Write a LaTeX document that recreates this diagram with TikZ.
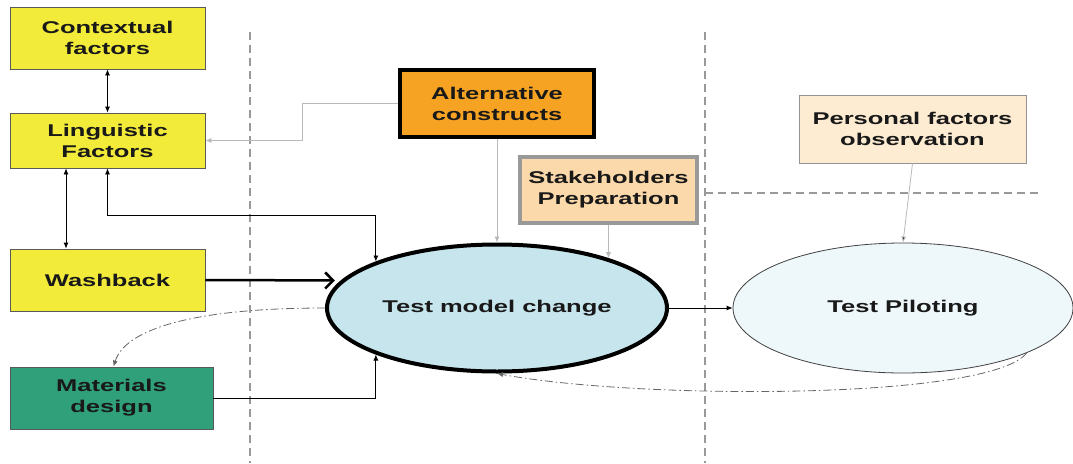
\documentclass[tikz,border=0pt]{standalone}
\usepackage{fontspec}
\setmainfont{Liberation Sans}[FakeStretch=1.5]
\usetikzlibrary{arrows.meta,shapes.geometric}
\definecolor{yellowbox}{HTML}{F2EB3A}
\definecolor{greenbox}{HTML}{2FA07A}
\definecolor{orangebox}{HTML}{F6A323}
\definecolor{peachbox}{HTML}{FCD9AA}
\definecolor{palebox}{HTML}{FDEBD2}
\definecolor{bluefill}{HTML}{C6E5EC}
\definecolor{palefill}{HTML}{EEF7FA}
\begin{document}
\begin{tikzpicture}[x=1pt,y=-1pt,
    txt/.style={align=center,font=\bfseries\fontsize{17}{21}\selectfont,text=black!90},
    box/.style={txt,draw=black!65,line width=0.8pt,inner sep=0pt},
    arr/.style={line width=0.8pt,-{Latex[length=6pt,width=5pt]}},
    lightarr/.style={arr,draw=gray!55},
    sep/.style={draw=gray!80,line width=1.2pt,dash pattern=on 8pt off 5pt},
    dashdot/.style={arr,draw=black!60,dash pattern=on 8pt off 3pt on 1.5pt off 3pt}]
        \useasboundingbox (0,0) rectangle (1073,463);
        %% Separators
        \draw[sep] (250,32) -- (250,463);
        \draw[sep] (705,32) -- (705,463);
        \draw[sep] (705,193) -- (1041,193);
        %% Left column
        \node[box,fill=yellowbox,minimum width=195,minimum height=62] (ctx) at (107.5,38) {Contextual\\factors};
        \node[box,fill=yellowbox,minimum width=195,minimum height=55] (ling) at (107.5,140.5) {Linguistic\\Factors};
        \node[box,fill=yellowbox,minimum width=195,minimum height=62] (wash) at (107.5,280) {Washback};
        \node[box,fill=greenbox,minimum width=203,minimum height=62] (mat) at (111.5,398) {Materials\\design};
        %% Top boxes
        \node[box,fill=orangebox,draw=black,line width=4pt,minimum width=194,minimum height=67] (alt) at (497,103.5) {Alternative\\constructs};
        \node[box,fill=peachbox,draw=gray!80,line width=4pt,minimum width=177,minimum height=66] (stake) at (608.5,190) {Stakeholders\\Preparation};
        \node[box,fill=palebox,draw=gray!85,minimum width=227,minimum height=68] (pers) at (912.5,129) {Personal factors\\observation};
        %% Ellipses
        \node[txt,ellipse,draw=black,line width=4pt,fill=bluefill,minimum width=340,minimum height=127] (tmc) at (497,308) {Test model change};
        \node[txt,ellipse,draw=black!75,line width=0.8pt,fill=palefill,minimum width=340,minimum height=130] (tp) at (903,308) {Test Piloting};
        %% Connectors
        \coordinate (lk) at (0,215);
        \draw[arr,{Latex[length=6pt,width=5pt]}-{Latex[length=6pt,width=5pt]}] (ctx) -- (ling);
        \draw[arr,{Latex[length=6pt,width=5pt]}-{Latex[length=6pt,width=5pt]}] ([xshift=-41.5]ling.south) -- ([xshift=-41.5]wash.north);
        \draw[arr,{Latex[length=6pt,width=5pt]}-{Latex[length=6pt,width=5pt]}] (ling.south) |- (tmc.159 |- lk) -- (tmc.159);
        \draw[lightarr] (alt.west) -- (302,103.5) |- (ling.east);
        \draw[lightarr] (alt.south) -- (tmc.north);
        \draw[lightarr] (stake.south) -- (stake.south |- tmc.24);
        \draw[lightarr,-{Latex[length=6pt,width=5pt,fill=black!80]}] (pers.south) -- (tp.north);
        \draw[line width=2.5pt,shorten >=6pt,-{Straight Barb[length=8pt,width=16pt]}] (wash.east) -- (tmc.170);
        \draw[arr] (mat.east) -| (tmc.201);
        \draw[arr] (tmc.east) -- (tp.west);
        %% Feedback loops
        \draw[dashdot] (tmc.west) .. controls (190,308) and (125,330) .. ([xshift=2]mat.north);
        \draw[dashdot] (tp.-20) .. controls (990,400) and (640,400) .. (tmc.south);
\end{tikzpicture}
\end{document}
